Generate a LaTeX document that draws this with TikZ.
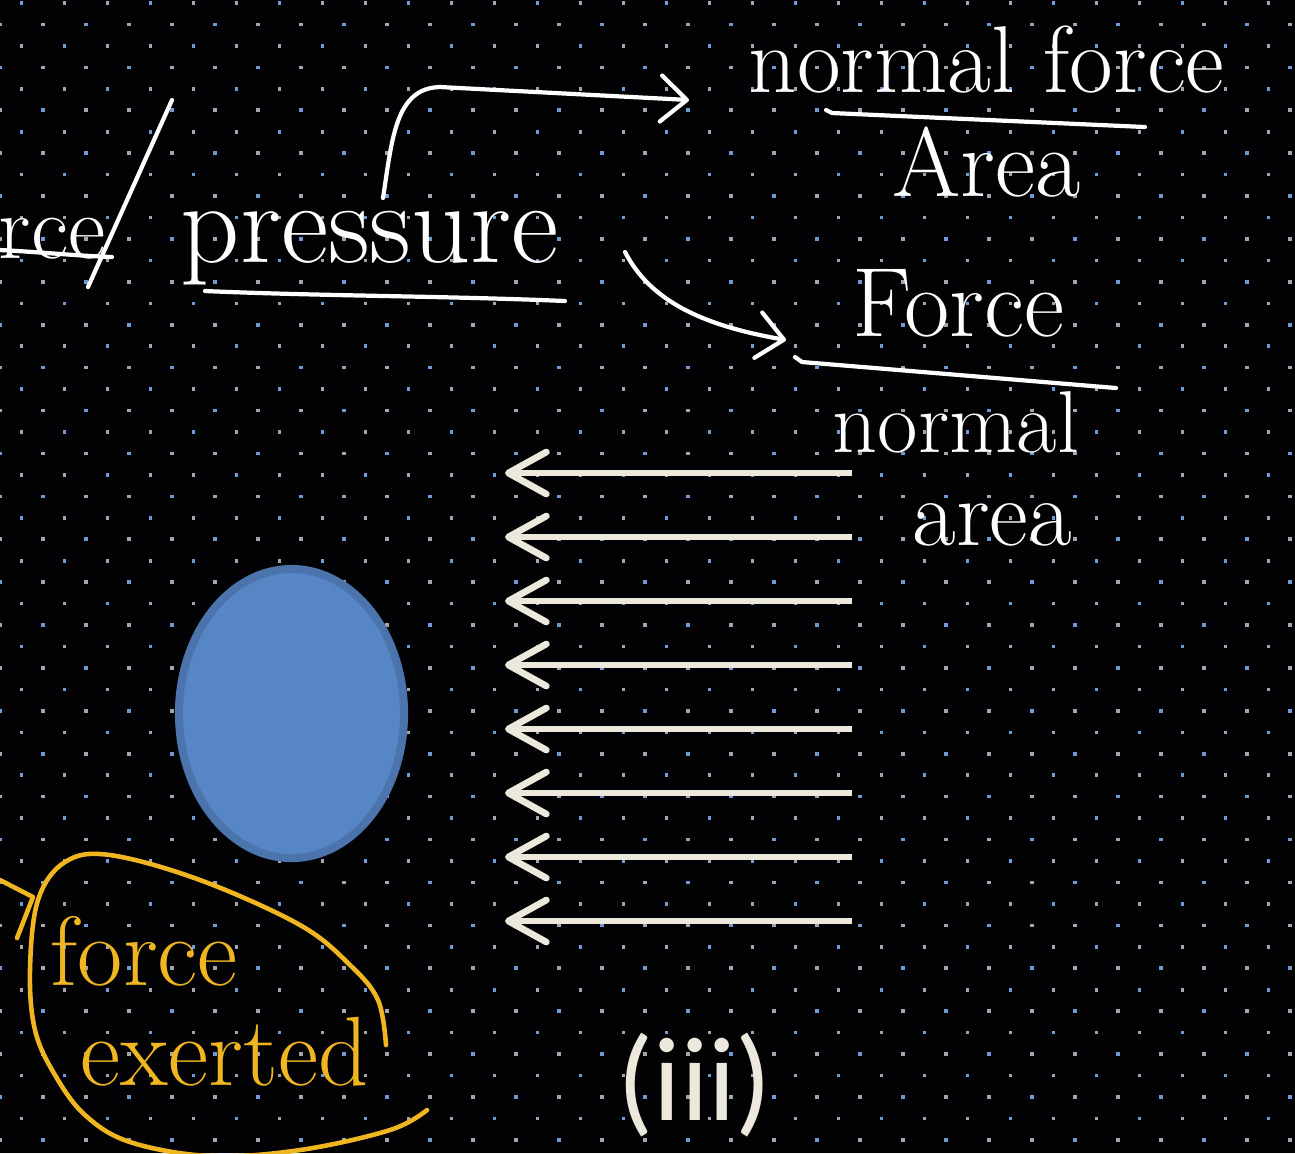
\documentclass[tikz,border=0pt]{standalone}
\usepackage{fontspec}
\usepackage{tikz}
\usetikzlibrary{arrows.meta, shapes.geometric, positioning}
\newfontfamily\capfont{Carlito}
\definecolor{board}{HTML}{020204}
\definecolor{chalk}{HTML}{ECE8DC}
\definecolor{marker}{HTML}{F0B622}
\definecolor{dotblue}{HTML}{6E9AD6}
\definecolor{dotgrey}{HTML}{A4A4AC}
\definecolor{ballfill}{HTML}{5686C6}
\definecolor{ballrim}{HTML}{4B74AC}
\tikzset{hand/.style={font=\fontsize{28}{30}\selectfont, text=white, inner sep=0pt, anchor=base west},
    yellow hand/.style={hand, text=marker},
    stroke/.style={draw=white, line width=1.2pt, line cap=round, line join=round},
    pen arrow/.style={stroke, -{Straight Barb[length=2.6mm,width=4.6mm,round]}},
    push/.style={draw=chalk, line width=1.9pt, -{Straight Barb[length=3.8mm,width=4.2mm,round]}},
    ring/.style={draw=marker, line width=1.3pt, line cap=round, line join=round},
    ball/.style={ellipse, fill=ballfill, draw=ballrim, line width=0.08cm, inner sep=0pt,
        minimum width=2.25cm, minimum height=2.89cm}}

\begin{document}
\begin{tikzpicture}[x=0.01cm, y=-0.01cm]
    % Board and dot grid
    \useasboundingbox (0,0) rectangle (1295,1153);
    \fill[board] (0,0) rectangle (1295,1153);
    \foreach \r in {0,...,54} {
      \foreach \c in {0,...,30} {
        \pgfmathsetmacro\dx{43*\c+21.5*mod(\r+1,2)}
        \pgfmathsetmacro\dy{3+21.45*\r}
        \pgfmathtruncatemacro\k{mod(\c+\r,3)}
        \ifnum\k=0 \def\dc{dotblue}\else\def\dc{dotgrey}\fi
        \fill[\dc] (\dx-1.8,\dy-1.8) rectangle ++(3.6,3.6);
      }
    }

    % Handwritten definitions
    \node[hand, font=\fontsize{26}{28}\selectfont] (rce) at (-2,258) {rce};
    \node[hand, font=\fontsize{33}{36}\selectfont] (pressure) at (180,262) {pressure};
    \node[hand, font=\fontsize{27}{29}\selectfont] (nf) at (748,92) {normal force};
    \node[hand, font=\fontsize{28}{30}\selectfont] (areaA) at (892,196) {Area};
    \node[hand] (force) at (852,336) {Force};
    \node[hand, font=\fontsize{25}{27}\selectfont] (nmal) at (832,452) {normal};
    \node[hand, font=\fontsize{27}{29}\selectfont] (area) at (912,545) {area};

    \draw[stroke] (0,250) .. controls (40,252) and (80,256) .. (112,257);
    \draw[stroke] (172,100) -- (88,287);
    \draw[stroke] (205,291) .. controls (320,296) and (450,296) .. (565,301);
    \draw[stroke] (826,110) -- (832,113) -- (1145,127);
    \draw[stroke] (795,357) -- (802,362) -- (1116,388);

    % Two readings of pressure
    \coordinate (up) at (383,198);
    \coordinate (upend) at (689,100);
    \coordinate (dn) at (625,252);
    \coordinate (dnend) at (786,340);
    \draw[pen arrow] (up) .. controls (392,140) and (395,88) .. (440,87) -- (upend);
    \draw[pen arrow] (dn) .. controls (650,300) and (700,325) .. (dnend);

    % Body in the stream
    \node[ball] (body) at (291.5,713.5) {};
    \foreach \i in {0,...,7} {
      \coordinate (s\i) at (852,473+64*\i);
      \coordinate (t\i) at (505,473+64*\i);
      \draw[push] (s\i) -- (t\i);
    }

    % Force exerted, circled
    \node[yellow hand] (fy) at (50,985) {force};
    \node[yellow hand] (ex) at (80,1085) {exerted};
    \draw[ring] (0,880) -- (33,897) -- (17,938);
    \draw[ring] plot[smooth, tension=0.6] coordinates {(386,1045) (378,1000) (350,965) (300,925)
        (200,880) (110,855) (65,862) (38,900) (30,970) (35,1030) (55,1075) (85,1115)
        (130,1142) (210,1156) (300,1150) (390,1130) (427,1110)};

    \node[text=chalk, font=\capfont\fontsize{34}{36}\selectfont] (tag) at (695,1085) {(iii)};
\end{tikzpicture}
\end{document}
